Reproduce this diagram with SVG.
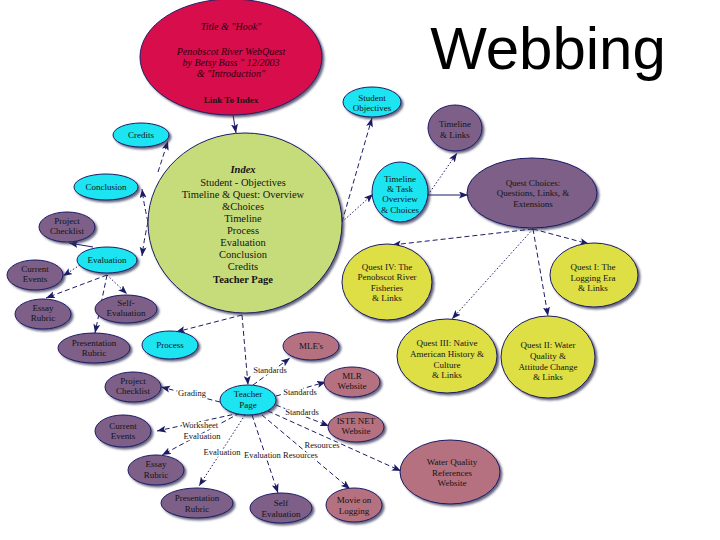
<svg xmlns="http://www.w3.org/2000/svg" width="720" height="540" viewBox="0 0 720 540">
<style>
  .n { stroke: #1c1c66; stroke-width: 1; filter: url(#sh); }
  .cy { fill: #1ee4f0; }
  .pu { fill: #7d5f88; }
  .ye { fill: #dede44; }
  .ro { fill: #b5717f; }
  .t { font-family: "Liberation Serif", "Times New Roman", serif; font-size: 9px; fill: #141414; text-anchor: middle; }
  .ti { font-family: "Liberation Serif", "Times New Roman", serif; font-size: 10px; font-style: italic; fill: #2a0010; text-anchor: middle; }
  .ix { font-family: "Liberation Serif", "Times New Roman", serif; font-size: 10.5px; fill: #141414; text-anchor: middle; }
  .lbl { font-family: "Liberation Serif", "Times New Roman", serif; font-size: 8.5px; fill: #141414; text-anchor: middle; paint-order: stroke; stroke: #ffffff; stroke-width: 3px; stroke-linejoin: round; }
  .c { fill: none; stroke: #1c1c66; stroke-width: 1; marker-end: url(#ah); }
  .da { stroke-dasharray: 5 3; }
  .do { stroke-dasharray: 1.5 2; }
</style>
<defs>
  <filter id="sh" x="-10%" y="-10%" width="125%" height="130%">
    <feDropShadow dx="2" dy="2" stdDeviation="0.8" flood-color="#333355" flood-opacity="0.75"/>
  </filter>
  <marker id="ah" markerUnits="userSpaceOnUse" markerWidth="10" markerHeight="8" refX="9" refY="3.5" orient="auto">
    <path d="M0,0 L9,3.5 L0,7 L2,3.5 z" fill="#1c1c66"/>
  </marker>
</defs>
<rect width="720" height="540" fill="#ffffff"/>

<text x="548" y="69" font-family="Liberation Sans, Arial, sans-serif" font-size="60" text-anchor="middle" fill="#000000">Webbing</text>

<g id="connectors">
  <path class="c" d="M233,115 L236,133"/>
  <path class="c da" d="M158,172 L168,141"/>
  <path class="c da" d="M148,222 Q144,205 142,189"/>
  <path class="c da" d="M148,222 Q144,240 142,256"/>
  <path class="c" d="M93,247 L69,243"/>
  <path class="c do" d="M80,265 L63,276"/>
  <path class="c da" d="M107,275 L46,298"/>
  <path class="c do" d="M107,275 L127,294"/>
  <path class="c da" d="M107,275 L95,333"/>
  <path class="c da" d="M242,315 L176,332"/>
  <path class="c da" d="M242,315 L248,385"/>
  <path class="c da" d="M342,222 L372,118"/>
  <path class="c do" d="M342,222 L373,194"/>
  <path class="c do" d="M428,195 L457,153"/>
  <path class="c" d="M428,195 L468,195"/>
  <path class="c da" d="M533,229 L392,245"/>
  <path class="c da" d="M533,229 L589,244"/>
  <path class="c da" d="M533,229 L548,316"/>
  <path class="c do" d="M533,229 L452,319"/>
  <path class="c da" d="M253,385 L290,358"/>
  <path class="c da" d="M276,396 L326,382"/>
  <path class="c da" d="M276,405 L329,426"/>
  <path class="c da" d="M268,411 L401,471"/>
  <path class="c da" d="M262,415 L350,489"/>
  <path class="c da" d="M252,415 L278,493"/>
  <path class="c do" d="M245,415 L199,486"/>
  <path class="c da" d="M240,413 L157,431"/>
  <path class="c da" d="M240,413 L162,455"/>
  <path class="c da" d="M220,402 L161,387"/>
  <text class="lbl" x="270" y="373">Standards</text>
  <text class="lbl" x="300" y="395">Standards</text>
  <text class="lbl" x="302" y="415">Standards</text>
  <text class="lbl" x="322" y="448">Resources</text>
  <text class="lbl" x="281" y="458">Evaluation Resources</text>
  <text class="lbl" x="222" y="455">Evaluation</text>
  <text class="lbl" x="200" y="428">Worksheet</text>
  <text class="lbl" x="202" y="439">Evaluation</text>
  <text class="lbl" x="192" y="396">Grading</text>
</g>

<g id="title">
  <ellipse class="n" cx="231" cy="57" rx="91" ry="58" fill="#d8104c"/>
  <text class="ti" x="231" y="30">Title &amp; "Hook"</text>
  <text class="ti" x="231" y="55">Penobscot River WebQuest</text>
  <text class="ti" x="231" y="66">by Betsy Bass " 12/2003</text>
  <text class="ti" x="231" y="77">&amp; "Introduction"</text>
  <text class="t" x="231" y="103" font-size="10" font-weight="bold">Link To Index</text>
</g>

<g id="index">
  <ellipse class="n" cx="245" cy="223" rx="97" ry="90" fill="#c6dc7a"/>
  <text class="ix" x="243" y="173" font-size="12" font-weight="bold" font-style="italic">Index</text>
  <text class="ix" x="243" y="186">Student - Objectives</text>
  <text class="ix" x="243" y="198">Timeline &amp; Quest: Overview</text>
  <text class="ix" x="243" y="210">&amp;Choices</text>
  <text class="ix" x="243" y="222">Timeline</text>
  <text class="ix" x="243" y="234">Process</text>
  <text class="ix" x="243" y="246">Evaluation</text>
  <text class="ix" x="243" y="258">Conclusion</text>
  <text class="ix" x="243" y="270">Credits</text>
  <text class="ix" x="243" y="283" font-weight="bold">Teacher Page</text>
</g>

<g id="credits"><ellipse class="n cy" cx="141" cy="135" rx="28" ry="12"/><text class="t" x="141" y="138">Credits</text></g>
<g id="conclusion"><ellipse class="n cy" cx="106" cy="187" rx="32" ry="13"/><text class="t" x="106" y="190">Conclusion</text></g>
<g id="project-checklist-1"><ellipse class="n pu" cx="67" cy="227" rx="28" ry="15"/><text class="t" x="67" y="224">Project</text><text class="t" x="67" y="234">Checklist</text></g>
<g id="evaluation"><ellipse class="n cy" cx="107" cy="260" rx="30" ry="13"/><text class="t" x="107" y="263">Evaluation</text></g>
<g id="current-events-1"><ellipse class="n pu" cx="35" cy="275" rx="28" ry="15"/><text class="t" x="35" y="272">Current</text><text class="t" x="35" y="282">Events</text></g>
<g id="essay-rubric-1"><ellipse class="n pu" cx="43" cy="314" rx="28" ry="15"/><text class="t" x="43" y="311">Essay</text><text class="t" x="43" y="321">Rubric</text></g>
<g id="self-evaluation-1"><ellipse class="n pu" cx="126" cy="309" rx="31" ry="14"/><text class="t" x="126" y="306">Self-</text><text class="t" x="126" y="316">Evaluation</text></g>
<g id="presentation-rubric-1"><ellipse class="n pu" cx="94" cy="348" rx="36" ry="15"/><text class="t" x="94" y="346">Presentation</text><text class="t" x="94" y="356">Rubric</text></g>
<g id="process"><ellipse class="n cy" cx="170" cy="345" rx="28" ry="14"/><text class="t" x="170" y="348">Process</text></g>

<g id="student-objectives"><ellipse class="n cy" cx="372" cy="102" rx="29" ry="15"/><text class="t" x="372" y="101">Student</text><text class="t" x="372" y="111">Objectives</text></g>
<g id="timeline-links"><ellipse class="n pu" cx="455" cy="128" rx="27" ry="23"/><text class="t" x="455" y="127">Timeline</text><text class="t" x="455" y="138">&amp; Links</text></g>
<g id="timeline-task"><ellipse class="n cy" cx="400" cy="192" rx="28" ry="30"/><text class="t" x="400" y="182">Timeline</text><text class="t" x="400" y="192">&amp; Task</text><text class="t" x="400" y="202">Overview</text><text class="t" x="400" y="213">&amp; Choices</text></g>
<g id="quest-choices"><ellipse class="n pu" cx="532" cy="193" rx="65" ry="35"/><text class="t" x="533" y="186">Quest Choices:</text><text class="t" x="533" y="196">Questions, Links, &amp;</text><text class="t" x="533" y="207">Extensions</text></g>
<g id="quest-i"><ellipse class="n ye" cx="594" cy="275" rx="44" ry="32"/><text class="t" x="593" y="270">Quest I: The</text><text class="t" x="593" y="281">Logging Era</text><text class="t" x="593" y="291">&amp; Links</text></g>
<g id="quest-iv"><ellipse class="n ye" cx="387" cy="282" rx="45" ry="38"/><text class="t" x="387" y="270">Quest IV: The</text><text class="t" x="387" y="280">Penobscot River</text><text class="t" x="387" y="291">Fisheries</text><text class="t" x="387" y="301">&amp; Links</text></g>
<g id="quest-iii"><ellipse class="n ye" cx="447" cy="356" rx="50" ry="37"/><text class="t" x="447" y="346">Quest III: Native</text><text class="t" x="447" y="357">American History &amp;</text><text class="t" x="447" y="368">Culture</text><text class="t" x="447" y="378">&amp; Links</text></g>
<g id="quest-ii"><ellipse class="n ye" cx="548" cy="357" rx="47" ry="41"/><text class="t" x="548" y="348">Quest II: Water</text><text class="t" x="548" y="359">Quality &amp;</text><text class="t" x="548" y="370">Attitude Change</text><text class="t" x="548" y="380">&amp; Links</text></g>

<g id="teacher-page"><ellipse class="n cy" cx="248" cy="400" rx="28" ry="15"/><text class="t" x="248" y="397">Teacher</text><text class="t" x="248" y="408">Page</text></g>
<g id="mles"><ellipse class="n ro" cx="311" cy="346" rx="28" ry="14"/><text class="t" x="311" y="349">MLE's</text></g>
<g id="mlr-website"><ellipse class="n ro" cx="352" cy="382" rx="28" ry="15"/><text class="t" x="352" y="379">MLR</text><text class="t" x="352" y="389">Website</text></g>
<g id="iste-website"><ellipse class="n ro" cx="356" cy="427" rx="28" ry="15"/><text class="t" x="356" y="424">ISTE NET</text><text class="t" x="356" y="434">Website</text></g>
<g id="water-quality"><ellipse class="n ro" cx="450" cy="472" rx="50" ry="32"/><text class="t" x="452" y="465">Water Quality</text><text class="t" x="452" y="476">References</text><text class="t" x="452" y="486">Website</text></g>
<g id="project-checklist-2"><ellipse class="n pu" cx="133" cy="387" rx="28" ry="15"/><text class="t" x="133" y="384">Project</text><text class="t" x="133" y="394">Checklist</text></g>
<g id="current-events-2"><ellipse class="n pu" cx="123" cy="431" rx="28" ry="16"/><text class="t" x="123" y="429">Current</text><text class="t" x="123" y="439">Events</text></g>
<g id="essay-rubric-2"><ellipse class="n pu" cx="156" cy="470" rx="28" ry="15"/><text class="t" x="156" y="467">Essay</text><text class="t" x="156" y="478">Rubric</text></g>
<g id="presentation-rubric-2"><ellipse class="n pu" cx="197" cy="503" rx="36" ry="15"/><text class="t" x="197" y="501">Presentation</text><text class="t" x="197" y="512">Rubric</text></g>
<g id="self-evaluation-2"><ellipse class="n pu" cx="281" cy="508" rx="31" ry="15"/><text class="t" x="281" y="506">Self</text><text class="t" x="281" y="517">Evaluation</text></g>
<g id="movie-logging"><ellipse class="n ro" cx="354" cy="505" rx="28" ry="17"/><text class="t" x="354" y="503">Movie on</text><text class="t" x="354" y="514">Logging</text></g>
</svg>
